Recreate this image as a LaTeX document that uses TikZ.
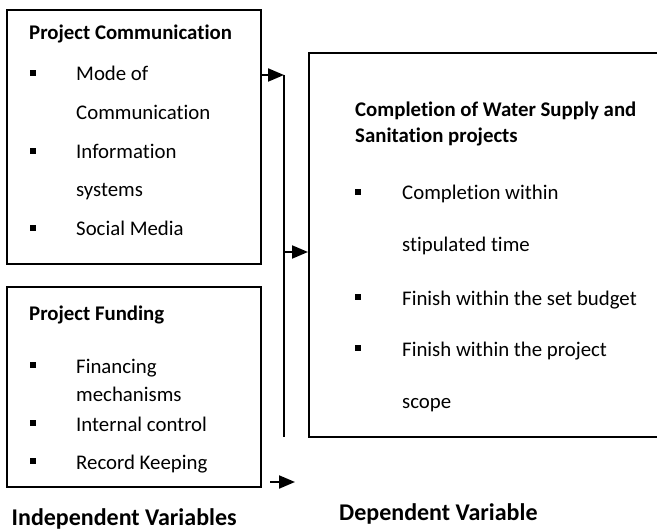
\documentclass[tikz,border=0pt]{standalone}
\usepackage{fontspec}
\setmainfont{Carlito}[Ligatures={NoCommon,NoRare}]
\usetikzlibrary{arrows.meta}
\begin{document}
\begin{tikzpicture}[x=1bp,y=-1bp,
  box/.style={draw, line width=2bp, rectangle, inner sep=0},
  conn/.style={line width=2bp},
  arr/.style={line width=2bp, -{Triangle[length=16bp,width=13bp]}},
  txt/.style={anchor=base west, inner sep=0, font=\fontsize{20.9}{25}\selectfont},
  hd/.style={anchor=base west, inner sep=0, font=\fontsize{20.9}{25}\selectfont\bfseries},
  lbl/.style={anchor=base west, inner sep=0, font=\fontsize{24.1}{29}\selectfont\bfseries},
  bul/.style={fill=black, inner sep=0, minimum size=6bp, rectangle}
]
\useasboundingbox (0,0) rectangle (657,531);

% boxes
\node[box, minimum width=254bp, minimum height=254bp] (pc) at (134,137) {};
\node[box, minimum width=254bp, minimum height=200bp] (pf) at (134,387) {};
\node[box, minimum width=349bp, minimum height=384bp] (dv) at (483.5,245) {};

% box 1 text
\node[hd] (pct) at (29,40) {Project Communication};
\node[bul] (b11) at (32.5,73) {};
\node[txt] (t11) at (76,81) {Mode of};
\node[txt] (t12) at (76,120) {Communication};
\node[bul] (b12) at (32.5,151) {};
\node[txt] (t13) at (76,159) {Information};
\node[txt] (t14) at (76,197) {systems};
\node[bul] (b13) at (32.5,228) {};
\node[txt] (t15) at (76,236) {Social Media};

% box 2 text
\node[hd] (pft) at (29,320) {Project Funding};
\node[bul] (b21) at (32.5,365) {};
\node[txt] (t21) at (76,373) {Financing};
\node[txt] (t22) at (76,401) {mechanisms};
\node[bul] (b22) at (32.5,423) {};
\node[txt] (t23) at (76,431) {Internal control};
\node[bul] (b23) at (32.5,461) {};
\node[txt] (t24) at (76,469) {Record Keeping};

% box 3 text
\node[hd] (dvt1) at (355,117) {Completion of Water Supply and};
\node[hd] (dvt2) at (355,143) {Sanitation projects};
\node[bul] (b31) at (357.5,192) {};
\node[txt] (t31) at (402,200) {Completion within};
\node[txt] (t32) at (402,252) {stipulated time};
\node[bul] (b32) at (357.5,297) {};
\node[txt] (t33) at (402,305) {Finish within the set budget};
\node[bul] (b33) at (357.5,348) {};
\node[txt] (t34) at (402,356) {Finish within the project};
\node[txt] (t35) at (402,408) {scope};

% labels
\node[lbl] (iv) at (11.5,525.5) {Independent Variables};
\node[lbl] (dvl) at (339,520) {Dependent Variable};

% connectors
\coordinate (j1) at (284,75);
\coordinate (j2) at (284,437);
\coordinate (j3) at (284,252);
\coordinate (a3s) at (270,482);
\coordinate (a3e) at (295,482);
\draw[arr] (pc.east |- j1) -- (j1);
\draw[conn] (j1) -- (j2);
\draw[arr] (j3) -- (j3 -| dv.west);
\draw[arr] (a3s) -- (a3e);
\end{tikzpicture}
\end{document}
